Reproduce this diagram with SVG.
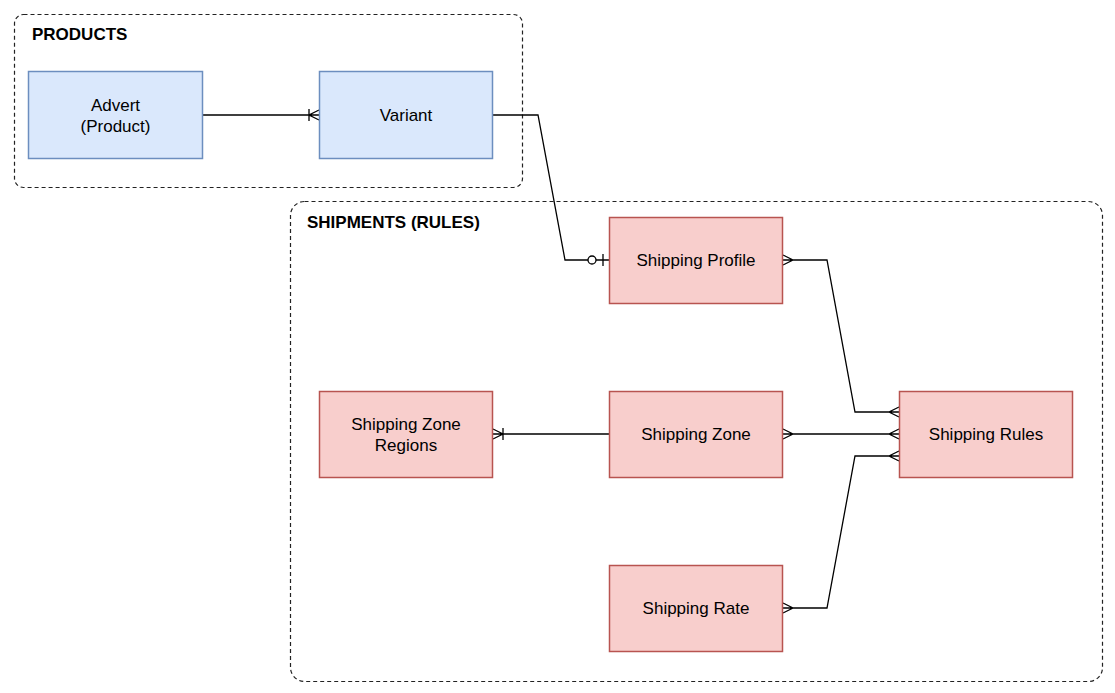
<svg xmlns="http://www.w3.org/2000/svg" width="1115" height="693" viewBox="0 0 1115 693">
<style>
.grp{fill:none;stroke:#222;stroke-width:1.2;stroke-dasharray:4 3}
.blue{fill:#dae8fc;stroke:#6c8ebf;stroke-width:1.5}
.red{fill:#f8cecc;stroke:#b85450;stroke-width:1.5}
.t{font-family:"Liberation Sans",Arial,sans-serif;font-size:17px;fill:#000;text-anchor:middle}
.h{font-family:"Liberation Sans",Arial,sans-serif;font-size:17px;font-weight:bold;fill:#000}
.e{fill:none;stroke:#000;stroke-width:1.3}
</style>
<rect width="1115" height="693" fill="#fff"/>
<g id="group-products">
<rect class="grp" x="14.5" y="14.5" width="508" height="173" rx="9"/>
<text class="h" x="32" y="40">PRODUCTS</text>
</g>
<g id="group-shipments">
<rect class="grp" x="290.5" y="201.5" width="812" height="480" rx="14"/>
<text class="h" x="307" y="228">SHIPMENTS (RULES)</text>
</g>
<g id="connectors">
<path class="e" d="M203 115H319M309 109v12M319 110L309 115L319 120"/>
<path class="e" d="M493 115H538L565 260H609M603 254v12"/>
<circle cx="592" cy="260" r="4" fill="#fff" stroke="#000" stroke-width="1.3"/>
<path class="e" d="M783 260H827L855 412H899M783 255L793 260L783 265M899 407L889 412L899 417"/>
<path class="e" d="M783 434H899M783 429L793 434L783 439M899 429L889 434L899 439"/>
<path class="e" d="M783 608H827L855 456H899M783 603L793 608L783 613M899 451L889 456L899 461"/>
<path class="e" d="M493 434H609M503 428v12M493 429L503 434L493 439"/>
</g>
<g id="node-advert">
<rect class="blue" x="28.5" y="71.5" width="174" height="87"/>
<text class="t" x="115.5" y="111">Advert</text>
<text class="t" x="115.5" y="132">(Product)</text>
</g>
<g id="node-variant">
<rect class="blue" x="319.5" y="71.5" width="173" height="87"/>
<text class="t" x="406" y="121">Variant</text>
</g>
<g id="node-shipping-profile">
<rect class="red" x="609.5" y="217.5" width="173" height="86"/>
<text class="t" x="696" y="266">Shipping Profile</text>
</g>
<g id="node-shipping-zone-regions">
<rect class="red" x="319.5" y="391.5" width="173" height="86"/>
<text class="t" x="406" y="430">Shipping Zone</text>
<text class="t" x="406" y="451">Regions</text>
</g>
<g id="node-shipping-zone">
<rect class="red" x="609.5" y="391.5" width="173" height="86"/>
<text class="t" x="696" y="440">Shipping Zone</text>
</g>
<g id="node-shipping-rules">
<rect class="red" x="899.5" y="391.5" width="173" height="86"/>
<text class="t" x="986" y="440">Shipping Rules</text>
</g>
<g id="node-shipping-rate">
<rect class="red" x="609.5" y="565.5" width="173" height="86"/>
<text class="t" x="696" y="614">Shipping Rate</text>
</g>
</svg>
